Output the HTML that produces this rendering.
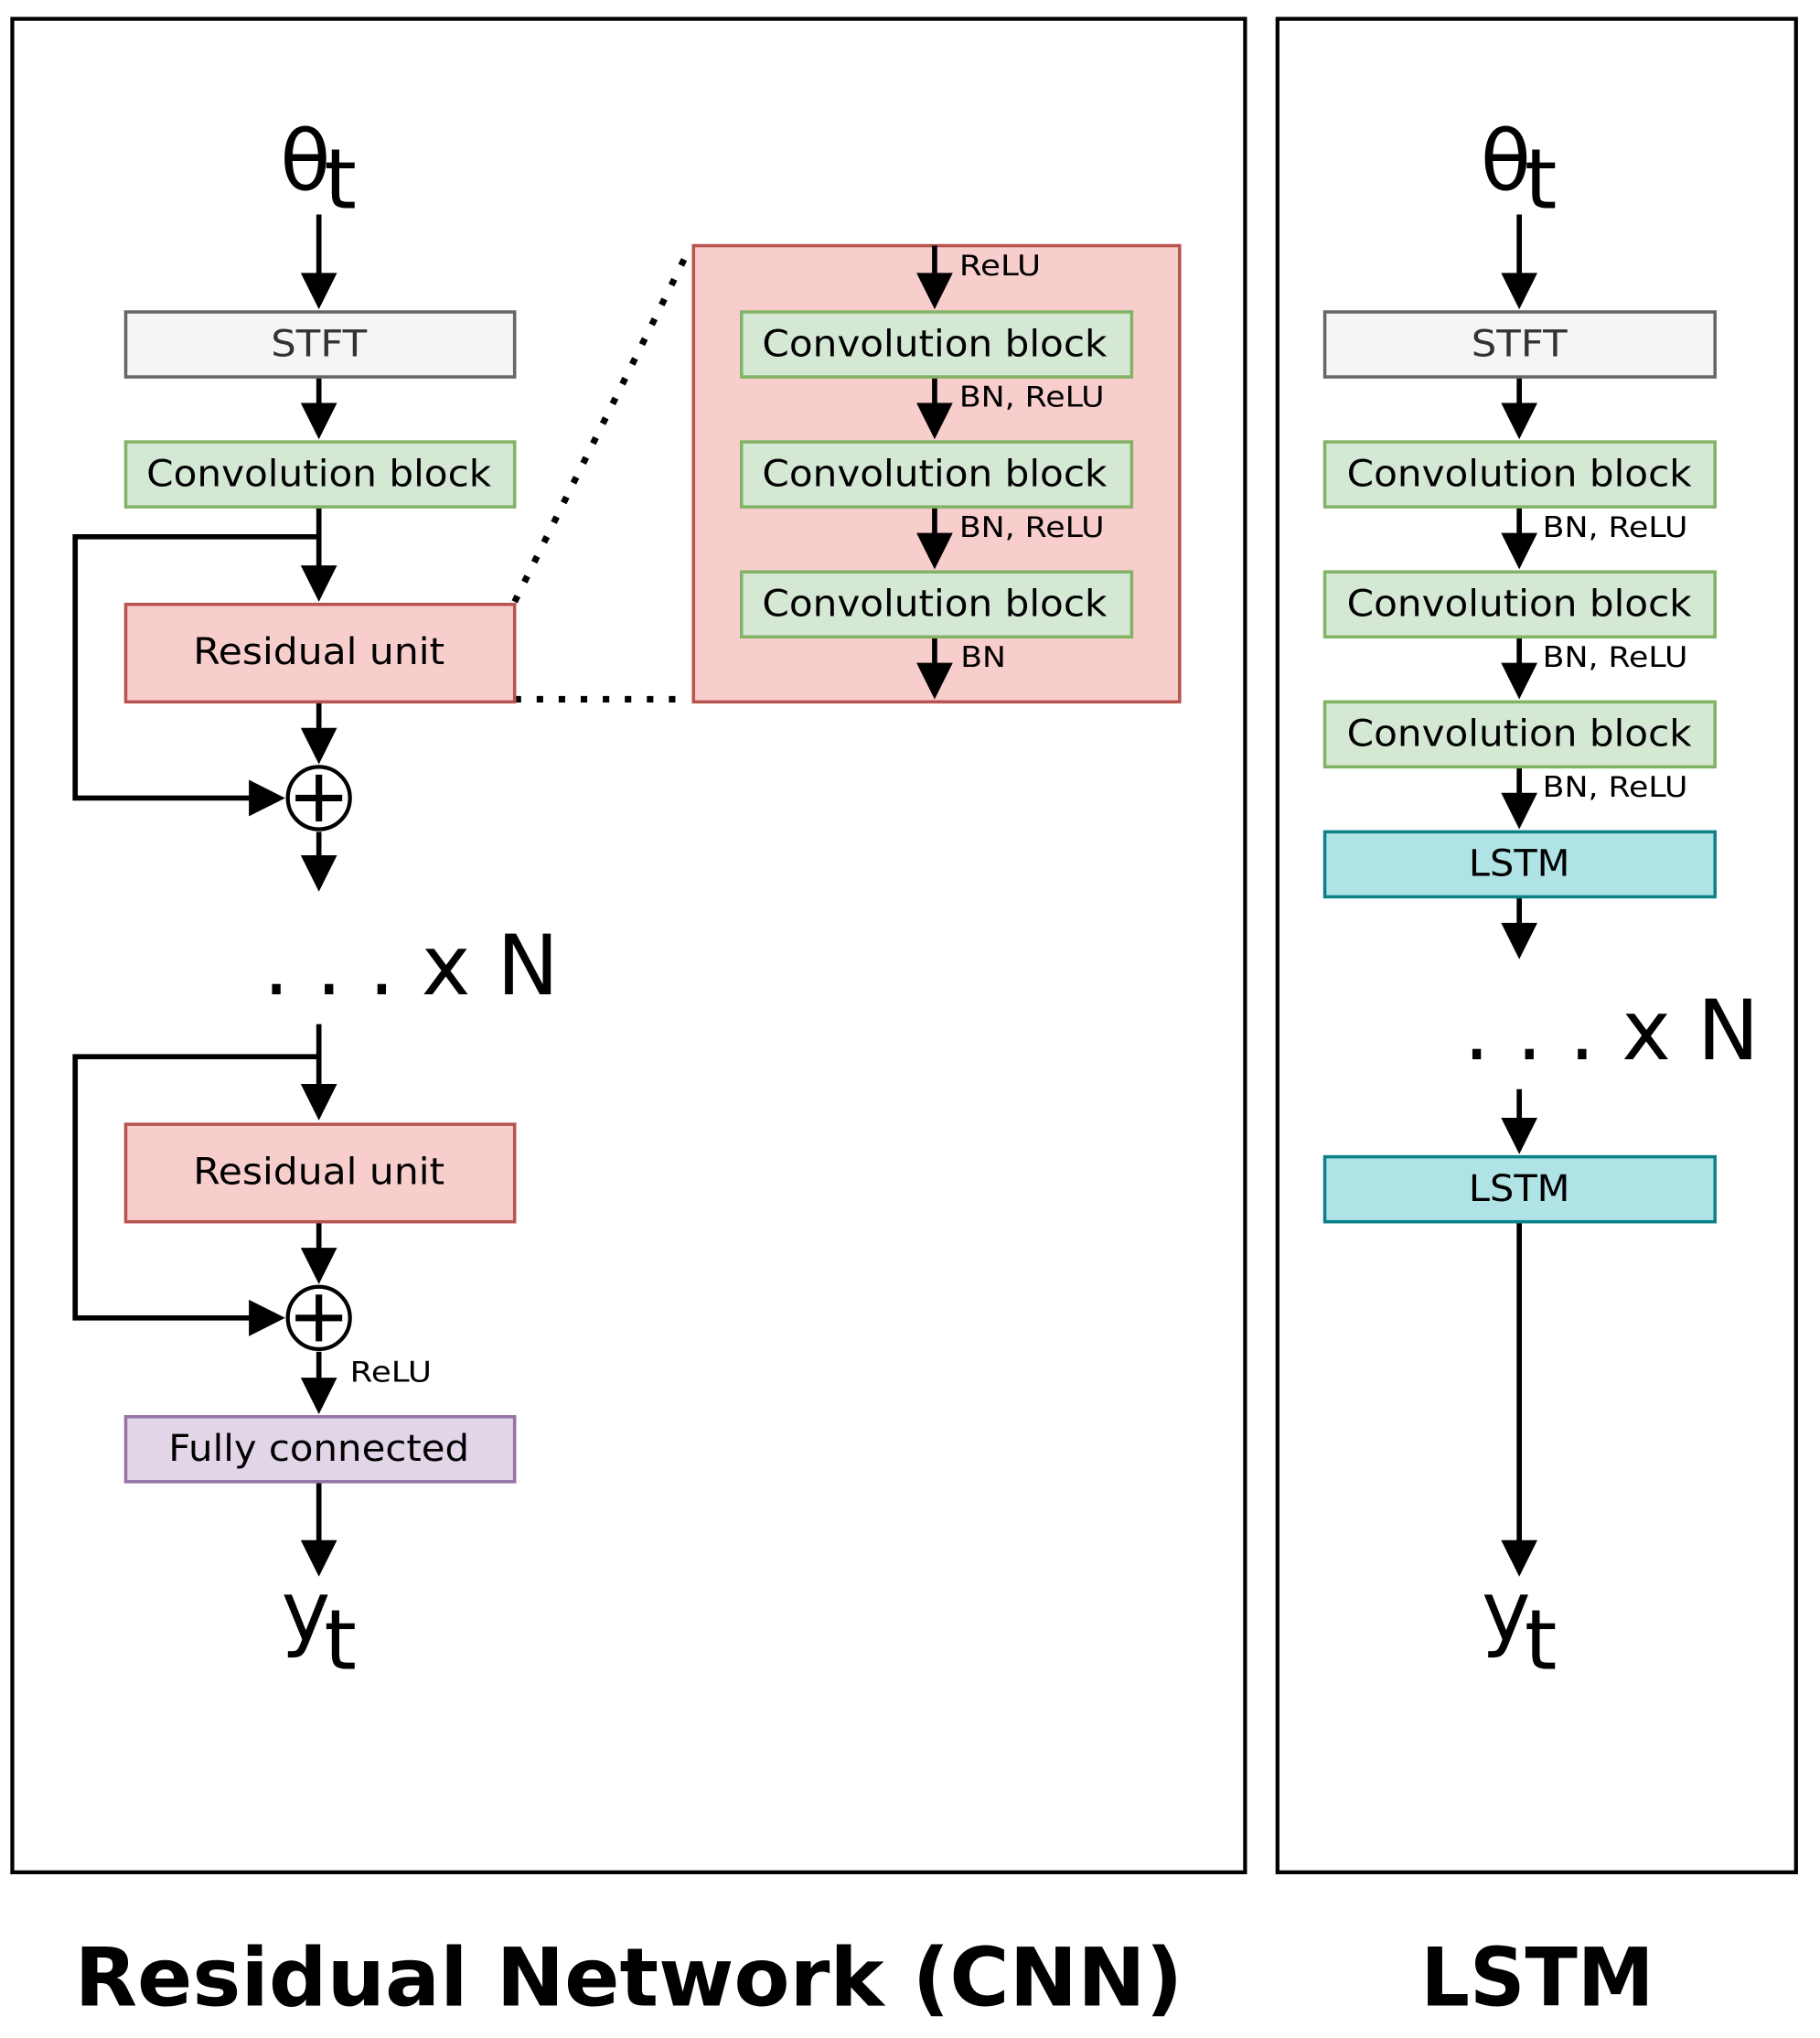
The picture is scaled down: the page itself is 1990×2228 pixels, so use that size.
<!DOCTYPE html>
<html><head><meta charset="utf-8"><style>html,body{margin:0;padding:0;background:#fff}svg{display:block}</style></head>
<body>
<svg width="1990" height="2228" viewBox="0 0 1404 1568" preserveAspectRatio="none" xmlns="http://www.w3.org/2000/svg" font-family="'DejaVu Sans', 'Liberation Sans', sans-serif">
<rect x="9.5" y="14.5" width="951" height="1426" fill="none" stroke="#000" stroke-width="3"/>
<rect x="985.5" y="14.5" width="400" height="1426" fill="none" stroke="#000" stroke-width="3"/>
<text x="485" y="1543" font-size="62" font-weight="bold" text-anchor="middle" textLength="855" lengthAdjust="spacingAndGlyphs">Residual Network (CNN)</text>
<text x="1186" y="1543" font-size="62" font-weight="bold" text-anchor="middle" textLength="180" lengthAdjust="spacingAndGlyphs">LSTM</text>
<!-- dotted -->
<g stroke="#000" stroke-width="5" stroke-dasharray="5,12" fill="none">
<line x1="397" y1="463" x2="533" y2="189"/>
<line x1="397" y1="538" x2="533" y2="538"/>
</g>
<rect x="535" y="189" width="375" height="351" fill="#f8cecc" stroke="#b85450" stroke-width="2.5"/>
<g stroke="#000" stroke-width="4" fill="none">
<path d="M246,165V220 M246,290V320 M246,390V445 M246,540V570 M246,640V668 M246,788V844 M246,940V970 M246,1040V1070 M246,1140V1195
M721,189V220 M721,290V320 M721,390V420 M721,490V520
M1172,165V220 M1172,290V320 M1172,390V420 M1172,490V520 M1172,590V620 M1172,690V720 M1172,838V870 M1172,940V1195"/>
<polyline points="246,413 58,413 58,614 200,614"/>
<polyline points="246,813 58,813 58,1014 200,1014"/>
</g>
<g fill="#000">
<path d="M232,210h28l-14,28z M232,310h28l-14,28z M232,435h28l-14,28z M232,560h28l-14,28z M232,658h28l-14,28z M232,834h28l-14,28z M232,960h28l-14,28z M232,1060h28l-14,28z M232,1185h28l-14,28z
M707,210h28l-14,28z M707,310h28l-14,28z M707,410h28l-14,28z M707,510h28l-14,28z
M1158,210h28l-14,28z M1158,310h28l-14,28z M1158,410h28l-14,28z M1158,510h28l-14,28z M1158,610h28l-14,28z M1158,710h28l-14,28z M1158,860h28l-14,28z M1158,1185h28l-14,28z
M192,600v28l28,-14z M192,1000v28l28,-14z"/>
</g>
<g stroke-width="2.5">
<rect x="97" y="240" width="300" height="50" fill="#f5f5f5" stroke="#666"/>
<rect x="97" y="340" width="300" height="50" fill="#d5e8d4" stroke="#82b366"/>
<rect x="97" y="465" width="300" height="75" fill="#f8cecc" stroke="#b85450"/>
<rect x="97" y="865" width="300" height="75" fill="#f8cecc" stroke="#b85450"/>
<rect x="97" y="1090" width="300" height="50" fill="#e1d5e7" stroke="#9673a6"/>
<rect x="572" y="240" width="301" height="50" fill="#d5e8d4" stroke="#82b366"/>
<rect x="572" y="340" width="301" height="50" fill="#d5e8d4" stroke="#82b366"/>
<rect x="572" y="440" width="301" height="50" fill="#d5e8d4" stroke="#82b366"/>
<rect x="1022" y="240" width="301" height="50" fill="#f5f5f5" stroke="#666"/>
<rect x="1022" y="340" width="301" height="50" fill="#d5e8d4" stroke="#82b366"/>
<rect x="1022" y="440" width="301" height="50" fill="#d5e8d4" stroke="#82b366"/>
<rect x="1022" y="540" width="301" height="50" fill="#d5e8d4" stroke="#82b366"/>
<rect x="1022" y="640" width="301" height="50" fill="#b0e3e6" stroke="#0e8088"/>
<rect x="1022" y="890" width="301" height="50" fill="#b0e3e6" stroke="#0e8088"/>
</g>
<g stroke="#000" fill="#fff">
<circle cx="246" cy="614" r="24" stroke-width="3"/>
<circle cx="246" cy="1014" r="24" stroke-width="3"/>
<path d="M246,596 V632 M228,614 H264 M246,996 V1032 M228,1014 H264" stroke-width="5"/>
</g>
<g font-size="28" text-anchor="middle">
<text x="246" y="274" fill="#333" textLength="74" lengthAdjust="spacingAndGlyphs">STFT</text>
<text x="246" y="374" textLength="266" lengthAdjust="spacingAndGlyphs">Convolution block</text>
<text x="246" y="511" textLength="194" lengthAdjust="spacingAndGlyphs">Residual unit</text>
<text x="246" y="911" textLength="194" lengthAdjust="spacingAndGlyphs">Residual unit</text>
<text x="246" y="1124" textLength="232" lengthAdjust="spacingAndGlyphs">Fully connected</text>
<text x="721" y="274" textLength="266" lengthAdjust="spacingAndGlyphs">Convolution block</text>
<text x="721" y="374" textLength="266" lengthAdjust="spacingAndGlyphs">Convolution block</text>
<text x="721" y="474" textLength="266" lengthAdjust="spacingAndGlyphs">Convolution block</text>
<text x="1172" y="274" fill="#333" textLength="74" lengthAdjust="spacingAndGlyphs">STFT</text>
<text x="1172" y="374" textLength="266" lengthAdjust="spacingAndGlyphs">Convolution block</text>
<text x="1172" y="474" textLength="266" lengthAdjust="spacingAndGlyphs">Convolution block</text>
<text x="1172" y="574" textLength="266" lengthAdjust="spacingAndGlyphs">Convolution block</text>
<text x="1172" y="674" textLength="78" lengthAdjust="spacingAndGlyphs">LSTM</text>
<text x="1172" y="924" textLength="78" lengthAdjust="spacingAndGlyphs">LSTM</text>
</g>
<g font-size="22">
<text x="740" y="212" textLength="63" lengthAdjust="spacingAndGlyphs">ReLU</text>
<text x="740" y="313" textLength="112" lengthAdjust="spacingAndGlyphs">BN, ReLU</text>
<text x="740" y="413" textLength="112" lengthAdjust="spacingAndGlyphs">BN, ReLU</text>
<text x="741" y="513" textLength="35" lengthAdjust="spacingAndGlyphs">BN</text>
<text x="270" y="1063" textLength="63" lengthAdjust="spacingAndGlyphs">ReLU</text>
<text x="1190" y="413" textLength="112" lengthAdjust="spacingAndGlyphs">BN, ReLU</text>
<text x="1190" y="513" textLength="112" lengthAdjust="spacingAndGlyphs">BN, ReLU</text>
<text x="1190" y="613" textLength="112" lengthAdjust="spacingAndGlyphs">BN, ReLU</text>
</g>
<g font-size="64">
<text x="216" y="146">θ</text><text x="250" y="160">t</text>
<text x="1142" y="146">θ</text><text x="1176" y="160">t</text>
<text x="217" y="1262">y</text><text x="250" y="1284">t</text>
<text x="1143" y="1262">y</text><text x="1176" y="1284">t</text>
<text x="203" y="765">. . . x N</text>
<text x="1129" y="815">. . . x N</text>
</g>
</svg>
</body></html>
